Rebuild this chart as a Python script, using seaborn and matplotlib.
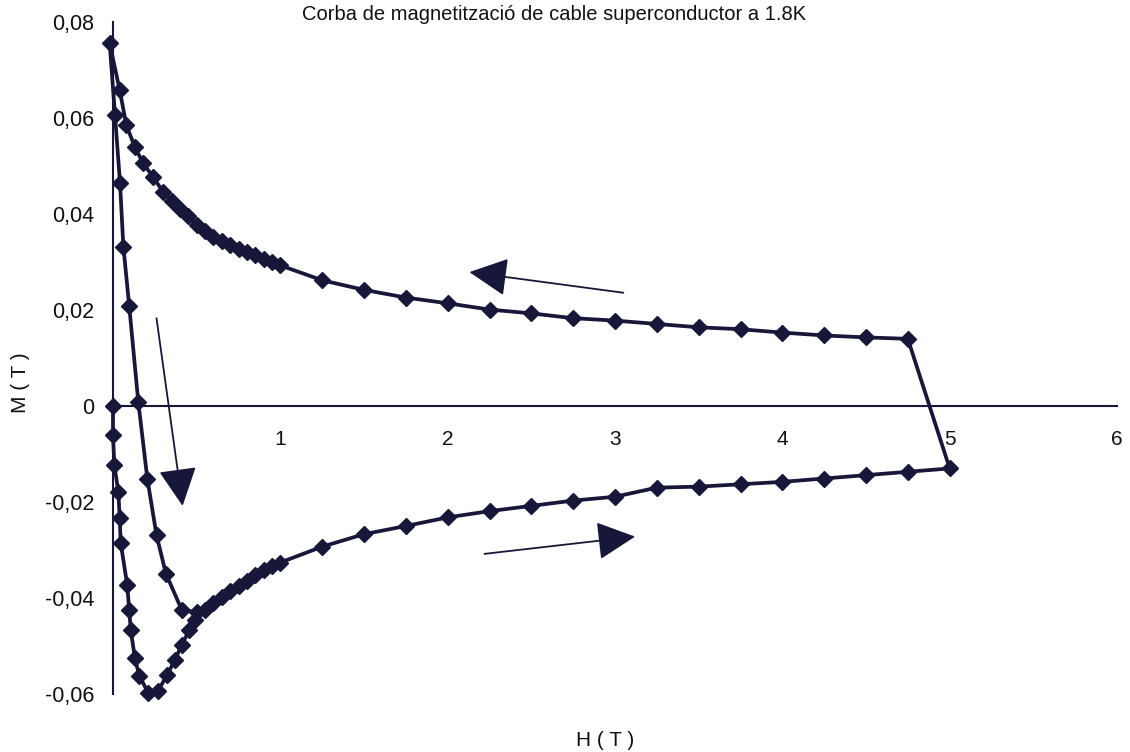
import matplotlib
matplotlib.use("Agg")
import matplotlib.pyplot as plt
from matplotlib import font_manager
from matplotlib.patches import FancyArrowPatch
import seaborn as sns
import pandas as pd

# Virgin curve: field raised from zero
H_virgin = [0.0, 0.0, 0.008, 0.032, 0.040, 0.046, 0.085, 0.097, 0.106, 0.131,
            0.157, 0.211, 0.270, 0.324, 0.370, 0.410, 0.456]
M_virgin = [0.0, -0.0060, -0.0123, -0.0179, -0.0233, -0.0285, -0.0373, -0.0425,
            -0.0467, -0.0525, -0.0562, -0.0598, -0.0593, -0.0560, -0.0529,
            -0.0498, -0.0467]

# Lower branch: increasing field up to 5 T
H_lower = [0.49, 0.55, 0.60, 0.65, 0.70, 0.75, 0.80, 0.85, 0.90, 0.95, 1.00,
           1.25, 1.50, 1.75, 2.00, 2.25, 2.50, 2.75, 3.00, 3.25, 3.50, 3.75,
           4.00, 4.25, 4.50, 4.75, 5.00]
M_lower = [-0.0446, -0.0425, -0.0410, -0.0397, -0.0385, -0.0374, -0.0364,
           -0.0352, -0.0342, -0.0334, -0.0326, -0.0293, -0.0267, -0.0250,
           -0.0232, -0.0219, -0.0208, -0.0197, -0.0189, -0.0170, -0.0168,
           -0.0163, -0.0158, -0.0151, -0.0144, -0.0137, -0.0130]

# Upper branch: decreasing field back to zero
H_upper = [4.75, 4.50, 4.25, 4.00, 3.75, 3.50, 3.25, 3.00, 2.75, 2.50, 2.25,
           2.00, 1.75, 1.50, 1.25, 1.00, 0.95, 0.90, 0.85, 0.80, 0.75, 0.70,
           0.65, 0.60, 0.55, 0.50, 0.45, 0.40, 0.35, 0.30, 0.24, 0.18, 0.13,
           0.08, 0.04, -0.02]
M_upper = [0.0140, 0.0143, 0.0147, 0.0153, 0.0160, 0.0164, 0.0171, 0.0178,
           0.0183, 0.0193, 0.0201, 0.0214, 0.0226, 0.0242, 0.0262, 0.0293,
           0.0300, 0.0307, 0.0314, 0.0321, 0.0328, 0.0335, 0.0343, 0.0353,
           0.0364, 0.0378, 0.0395, 0.0410, 0.0428, 0.0446, 0.0477, 0.0506,
           0.0540, 0.0585, 0.0658, 0.0756]

# Second rise of the field from zero
H_return = [0.012, 0.042, 0.062, 0.097, 0.151, 0.205, 0.260, 0.316, 0.410, 0.500]
M_return = [0.0606, 0.0464, 0.0332, 0.0208, 0.0009, -0.0151, -0.0269, -0.0349,
            -0.0424, -0.0430]

y_ticks = [-0.06, -0.04, -0.02, 0.0, 0.02, 0.04, 0.06, 0.08]
y_tick_labels = ["-0,06", "-0,04", "-0,02", "0", "0,02", "0,04", "0,06", "0,08"]
x_ticks = [1, 2, 3, 4, 5, 6]
x_tick_labels = ["1", "2", "3", "4", "5", "6"]

title = "Corba de magnetització de cable superconductor a 1.8K"
x_label = "H ( T )"
y_label = "M ( T )"

INK = "#17173a"

sns.set_theme(style="white")
plt.rcParams["font.family"] = ["Liberation Sans", "DejaVu Sans"]

path = pd.DataFrame({
    "H": H_virgin + H_lower + H_upper + H_return,
    "M": M_virgin + M_lower + M_upper + M_return,
})

fig = plt.figure(figsize=(11.3, 7.52), dpi=100)
fig.patch.set_facecolor("white")
ax = fig.add_axes([0.1, 0.0771, 0.8885, 0.8936])
ax.set_facecolor("white")

sns.lineplot(data=path, x="H", y="M", sort=False, estimator=None, ax=ax,
             color=INK, lw=2.7, marker="D", markersize=8.6,
             markeredgecolor=INK, markeredgewidth=1.0)
for ln in ax.lines:
    ln.set_clip_on(False)

ax.set_xlim(0, 6)
ax.set_ylim(-0.06, 0.08)

for side in ("top", "right"):
    ax.spines[side].set_visible(False)
ax.spines["bottom"].set_position(("data", 0))
for side in ("left", "bottom"):
    ax.spines[side].set_color(INK)
    ax.spines[side].set_linewidth(1.5)

ax.set_xticks(x_ticks)
ax.set_xticklabels(x_tick_labels)
ax.set_yticks(y_ticks)
ax.set_yticklabels(y_tick_labels)
ax.tick_params(axis="both", direction="inout", length=11, width=1.3,
               color=INK, labelcolor="#111111", labelsize=15)
ax.tick_params(axis="x", pad=12)
ax.tick_params(axis="y", pad=8, labelsize=15.5)
ax.set_xlabel("")
ax.set_ylabel("")
ax.grid(False)

# Direction arrows along the loop
arrows = [((3.05, 0.0236), (2.13, 0.0279)),
          ((2.22, -0.0308), (3.12, -0.0272)),
          ((0.26, 0.0183), (0.416, -0.0208))]
for start, end in arrows:
    ax.add_patch(FancyArrowPatch(start, end,
                                 arrowstyle="-|>,head_length=24,head_width=12",
                                 mutation_scale=1, lw=1.3, color=INK,
                                 shrinkA=0, shrinkB=0, clip_on=False))

fig.text(554 / 1130, 1 - 15 / 752, title, ha="center", va="center",
         fontsize=14.5, color="#111111")
fig.text(605 / 1130, 1 - 740 / 752, x_label, ha="center", va="center",
         fontsize=15, color="#111111")
fig.text(20 / 1130, 1 - 383 / 752, y_label, ha="center", va="center",
         rotation=90, fontsize=15, color="#111111")

fig.savefig("out.png", dpi=100, facecolor="white")
